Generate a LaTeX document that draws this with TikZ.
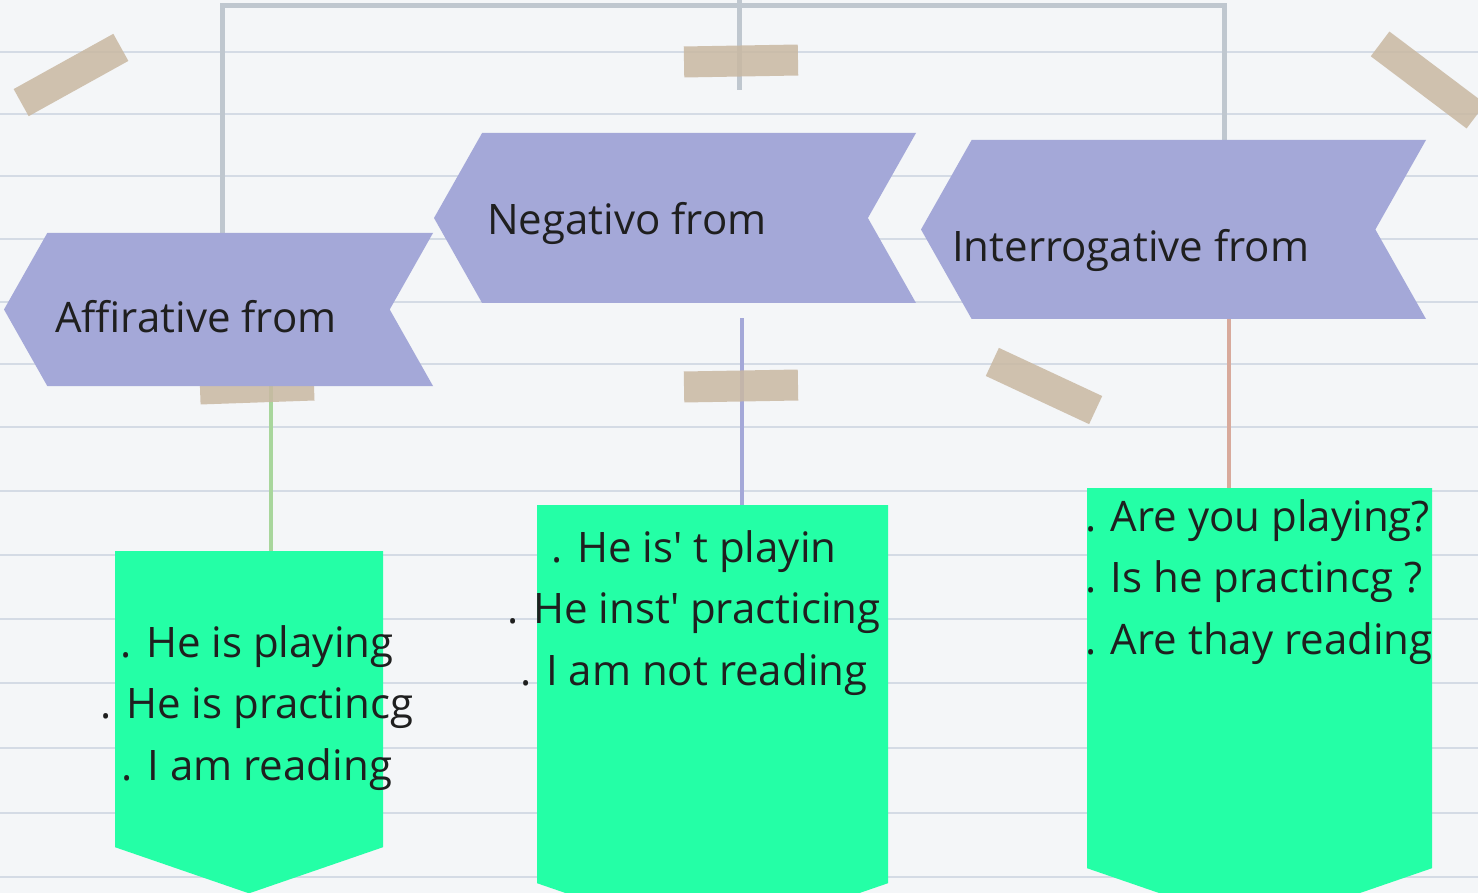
\documentclass[tikz,border=0pt]{standalone}
\usepackage{fontspec}
\setmainfont{Open Sans}
\usetikzlibrary{shapes.symbols}
\definecolor{paper}{RGB}{244,246,248}
\definecolor{ruling}{RGB}{212,219,229}
\definecolor{bracketgray}{RGB}{191,199,207}
\definecolor{banner}{RGB}{164,168,216}
\definecolor{mint}{RGB}{36,255,166}
\definecolor{tape}{RGB}{201,184,162}
\definecolor{leafgreen}{RGB}{168,214,156}
\definecolor{rosy}{RGB}{216,170,156}
\pgfdeclarelayer{paperlayer}
\pgfsetlayers{paperlayer,main}

\begin{document}
\begin{tikzpicture}[x=1pt,y=-1pt,
  formbox/.style={shape=signal,fill=banner,signal to=west,signal from=east,signal pointer angle=121,inner sep=0pt},
  pocket/.style={shape=signal,fill=mint,signal to=south,signal pointer angle=142,inner sep=0pt,anchor=north},
  tapestrip/.style={fill=tape,opacity=0.85,minimum width=114pt,minimum height=31pt,inner sep=0pt},
  words/.style={font=\fontsize{42}{52}\selectfont,inner sep=0pt,text=black!88},
  link/.style={line width=4pt},
  bracket/.style={line width=5pt,bracketgray}]
    \useasboundingbox (0,0) rectangle (1478,893);
    \clip (0,0) rectangle (1478,893);

    % title banners
    \node[formbox, minimum width=429pt, minimum height=153pt] (aff) at (218.5,309.5) {};
    \node[formbox, minimum width=482pt, minimum height=170pt] (neg) at (675,218) {};
    \node[formbox, minimum width=505pt, minimum height=179pt] (int) at (1173.5,229.5) {};

    % example pockets
    \node[pocket, minimum width=268pt, minimum height=296pt] (box1) at (249,551) {};
    \node[pocket, minimum width=351pt, minimum height=378pt] (box2) at (712.5,505) {};
    \node[pocket, minimum width=345pt, minimum height=380pt] (box3) at (1259.5,488) {};

    \coordinate (tl) at (222,6);
    \coordinate (tr) at (1224,6);
    \coordinate (stubtop) at (739,0);
    \coordinate (stubend) at (739,90);
    \coordinate (ga) at (271,0);
    \coordinate (gb) at (742,0);
    \coordinate (gc) at (1229,0);

    \begin{pgfonlayer}{paperlayer}
    % lined paper
    \fill[paper] (0,0) rectangle (1478,893);
    \foreach \y in {52,114,176,239,302,364,427,491,555,619,683,748,813,877}
        \draw[ruling, line width=2pt] (0,\y) -- (1478,\y);

    \draw[bracket] (aff.north -| tl) -- (tl) -- (tr) -- (int.north -| tr);
    \draw[bracket] (stubtop) -- (stubend);
    \draw[link, leafgreen] (aff.south -| ga) -- (box1.north -| ga);
    \draw[link, banner, shorten <=15pt] (neg.south -| gb) -- (box2.north -| gb);
    \draw[link, rosy] (int.south -| gc) -- (box3.north -| gc);

    % tape
    \node[tapestrip, rotate=29] (tape1) at (71,75) {};
    \node[tapestrip, rotate=1] (tape2) at (741,61) {};
    \node[tapestrip, rotate=2] (tape3) at (257,387) {};
    \node[tapestrip, rotate=1] (tape4) at (741,386) {};
    \node[tapestrip, rotate=-25] (tape5) at (1044,386) {};
    \node[tapestrip, rotate=-37, minimum width=120pt] (tape6) at (1428,80) {};
    \end{pgfonlayer}

    \node[words, anchor=base west] (affname) at (55,333) {Affirative from};
    \node[words, anchor=base west] (negname) at (487,235) {Negativo from};
    \node[words, anchor=base west] (intname) at (952,262) {Interrogative from};

    \foreach \t [count=\i] in {. He is playing, . He is practincg, . I am reading}
        \node[words, anchor=base] (aline\i) at (257,657+61.5*\i-61.5) {\t};
    \foreach \t [count=\i] in {. He is\textquotesingle\ t playin, . He inst\textquotesingle\ practicing, . I am not reading}
        \node[words, anchor=base] (nline\i) at (694,562+61.5*\i-61.5) {\t};
    \foreach \t [count=\i] in {. Are you playing?, . Is he practincg ?, . Are thay reading}
        \node[words, anchor=base west] (iline\i) at (1085,531+61.5*\i-61.5) {\t};
\end{tikzpicture}
\end{document}
